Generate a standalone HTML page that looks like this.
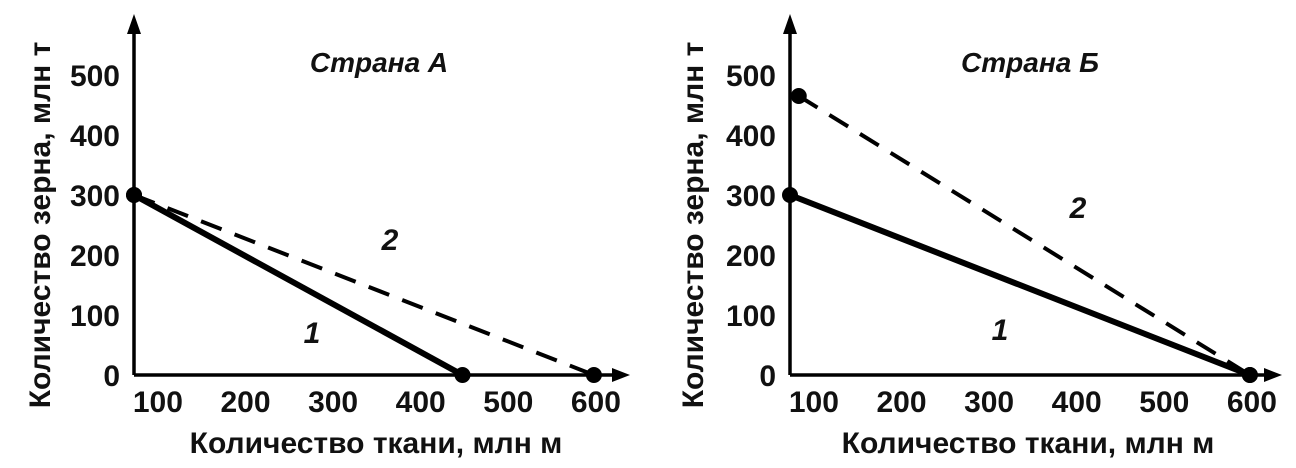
<!DOCTYPE html>
<html><head><meta charset="utf-8"><style>
html,body{margin:0;padding:0;background:#fff}
svg{display:block}
text{font-family:"Liberation Sans",Arial,sans-serif;fill:#111}
</style></head><body>
<svg width="1296" height="468" viewBox="0 0 1296 468">
<g id="root"></g>
</svg>
<script>
const xTicks = [100,200,300,400,500,600];
const yTicks = [0,100,200,300,400,500];
const titles = ["Страна А","Страна Б"];
const solidA = [[75,300],[450,0]];
const dashedA = [[75,300],[600,0]];
const solidB = [[75,300],[600,0]];
const dashedB = [[85,465],[600,0]];
const charts = [
 {x0:134, xEnd:630, name:'a', solid:solidA, dashed:dashedA, title:titles[0], t:[379,62], l2:[390,240], l1:[312,333], ylab:40, xlabc:376},
 {x0:790, xEnd:1282, name:'b', solid:solidB, dashed:dashedB, title:titles[1], t:[1030,62], l2:[1078,208], l1:[1000,330], ylab:693, xlabc:1028}
];
const NS='http://www.w3.org/2000/svg';
const root=document.getElementById('root');
function mk(tag,attrs,parent,txt){const e=document.createElementNS(NS,tag);for(const k in attrs)e.setAttribute(k,attrs[k]);if(txt!==undefined)e.textContent=txt;(parent||root).appendChild(e);return e;}
charts.forEach(c=>{
  const sx=v=>c.x0+(v-75)*0.876;
  const sy=v=>375-v*0.6;
  const g=mk('g',{});
  
  
  const ya=mk('path',{d:`M${c.x0} 375 V28`,stroke:'#000','stroke-width':3.5,fill:'none'},g);
  
  mk('path',{d:`M${c.x0-7} 34 L${c.x0} 14 L${c.x0+7} 34Z`,fill:'#000'},g);
  const xa=mk('path',{d:`M${c.x0} 375 H${c.xEnd-14}`,stroke:'#000','stroke-width':3.5,fill:'none'},g);
  
  mk('path',{d:`M${c.xEnd-18} 368 L${c.xEnd} 375 L${c.xEnd-18} 382Z`,fill:'#000'},g);
  yTicks.forEach(v=>{const t=mk('text',{x:c.x0-14,y:sy(v)+11,'text-anchor':'end','font-size':30,'font-weight':'bold'},g,String(v));
    });
  xTicks.forEach(v=>{const t=mk('text',{x:sx(v)+2,y:412,'text-anchor':'middle','font-size':30,'font-weight':'bold'},g,String(v));
    });
  const d=mk('path',{d:`M${sx(c.dashed[0][0])} ${sy(c.dashed[0][1])} L${sx(c.dashed[1][0])} ${sy(c.dashed[1][1])}`,stroke:'#000','stroke-width':4,'stroke-dasharray':'22 14',fill:'none'},g);
  
  const s=mk('path',{d:`M${sx(c.solid[0][0])} ${sy(c.solid[0][1])} L${sx(c.solid[1][0])} ${sy(c.solid[1][1])}`,stroke:'#000','stroke-width':6,fill:'none'},g);
  
  [c.solid[0],c.solid[1],c.dashed[0],c.dashed[1]].forEach(p=>{const e=mk('circle',{cx:sx(p[0]),cy:sy(p[1]),r:8,fill:'#000'},g);
    });
  const ti=mk('text',{x:c.t[0],y:c.t[1]+10,'text-anchor':'middle','font-size':28,'font-style':'italic','font-weight':'bold'},g,c.title);
  
  const l2=mk('text',{x:c.l2[0],y:c.l2[1]+10,'text-anchor':'middle','font-size':30,'font-style':'italic','font-weight':'bold'},g,'2');
  
  const l1=mk('text',{x:c.l1[0],y:c.l1[1]+10,'text-anchor':'middle','font-size':30,'font-style':'italic','font-weight':'bold'},g,'1');
  
  const xl=mk('text',{x:c.xlabc,y:453,'text-anchor':'middle','font-size':30,'font-weight':'bold'},g,'Количество ткани, млн м');
  
  const yl=mk('text',{x:0,y:0,'text-anchor':'middle','font-size':30,'font-weight':'bold',transform:`translate(${c.ylab+10},225) rotate(-90)`},g,'Количество зерна, млн т');
  
});
</script>
</body></html>
